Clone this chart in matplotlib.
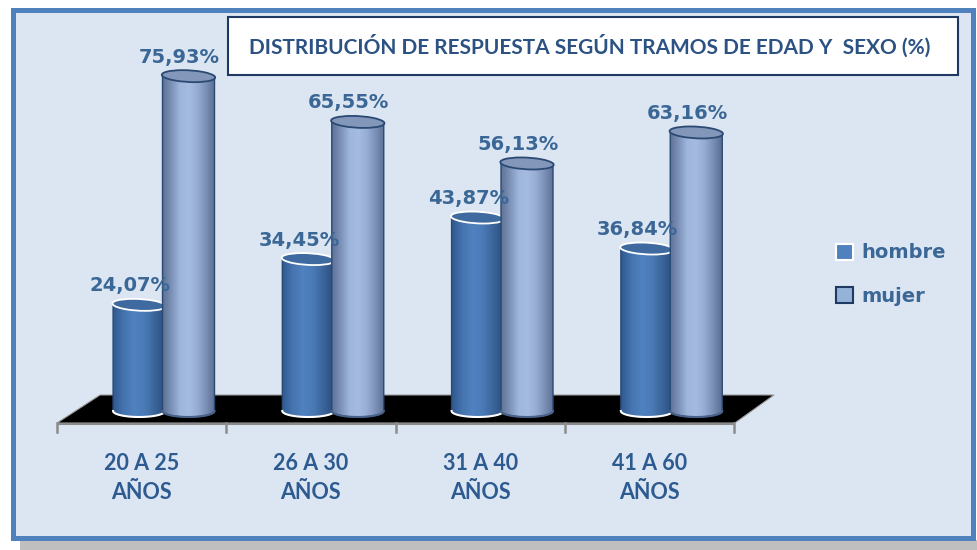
import numpy as np
import matplotlib.pyplot as plt
from matplotlib.patches import Rectangle, Ellipse, Polygon, Patch
from matplotlib.colors import LinearSegmentedColormap

# data
categories = ["20 A 25\nAÑOS", "26 A 30\nAÑOS", "31 A 40\nAÑOS", "41 A 60\nAÑOS"]
series_names = ["hombre", "mujer"]
hombre = [24.07, 34.45, 43.87, 36.84]
mujer = [75.93, 65.55, 56.13, 63.16]
title = "DISTRIBUCIÓN DE RESPUESTA SEGÚN TRAMOS DE EDAD Y  SEXO (%)"

W, H = 977, 550
fig = plt.figure(figsize=(W / 100, H / 100), dpi=100)


def fx(x):
    return x / W


def fy(y):
    return 1 - y / H


# frame, shadow and title box
fig.patches.append(Rectangle((fx(20), fy(550)), 957 / W, 10 / H, transform=fig.transFigure,
                             facecolor="#bfbfbf", edgecolor="none", zorder=-2))
fig.patches.append(Rectangle((fx(12.5), fy(537.5)), 960 / W, 528 / H, transform=fig.transFigure,
                             facecolor="#dce6f2", edgecolor="#4f81bd", lw=3.6, zorder=-1))
fig.patches.append(Rectangle((fx(228), fy(75)), 730 / W, 58 / H, transform=fig.transFigure,
                             facecolor="white", edgecolor="#1f3864", lw=1.5, zorder=1))
fig.text(fx(590), fy(46), title, ha="center", va="center", fontsize=15, fontweight="bold",
         family="Lato", color="#2b5283", zorder=6)

# plot axes: y=0 sits at pixel 411, 4.41 px per percent
base_px, scale = 411, 4.41
ax = fig.add_axes([fx(57), fy(440), 677 / W, 403 / H])
ax.set_zorder(5)
ax.patch.set_visible(False)
ax.axis("off")

n = len(categories)
bw = 52 / 169.25
eh = 12 / scale
offsets = [-0.015, 0.277]

cmap_h = LinearSegmentedColormap.from_list("h", ["#30598f", "#4574ae", "#5082c0", "#4a7ab6", "#3a6499", "#2c4f7f"])
cmap_m = LinearSegmentedColormap.from_list("m", ["#5f7296", "#7d92b8", "#9fb6dd", "#a5bbe0", "#96acd3", "#7a8fb5", "#5b6e92"])
styles = [
    dict(cmap=cmap_h, top_face="#3f6aa0", top_edge="white", base_edge="white", edge="#2a4a73"),
    dict(cmap=cmap_m, top_face="#8397ba", top_edge="#2a4a73", base_edge="#4a6189", edge="#2a4a73"),
]

# floor
front = (base_px - 423) / scale
back = (base_px - 395) / scale
floor = Polygon([(-0.5, front), (n - 0.5 + 0.005, front), (n - 0.5 + 40 / 169.25, back),
                 (-0.5 + 43 / 169.25, back)], closed=True, facecolor="black", edgecolor="#9a9a9a",
                lw=0.8, zorder=1, clip_on=False)
ax.add_patch(floor)
ax.plot([-0.5, n - 0.5], [front - 0.15, front - 0.15], color="#8c8c8c", lw=1.5, zorder=1,
        solid_capstyle="butt", clip_on=False)
tick_bottom = (base_px - 432) / scale
for t in np.arange(n + 1) - 0.5:
    ax.plot([t, t], [front, tick_bottom], color="#8c8c8c", lw=1.8, zorder=1, clip_on=False)


def cylinder(xc, v, st, z):
    x0, x1 = xc - bw / 2, xc + bw / 2
    t = np.linspace(np.pi, 2 * np.pi, 60)
    arc = np.column_stack([xc + bw / 2 * np.cos(t), eh / 2 * np.sin(t)])
    verts = np.vstack([[x0, v], arc, [x1, v]])
    body = Polygon(verts, closed=True, facecolor="none", edgecolor=st["edge"], lw=1, zorder=z + 0.1)
    ax.add_patch(body)
    grad = np.linspace(0, 1, 256).reshape(1, -1)
    im = ax.imshow(grad, extent=[x0, x1, -eh / 2, v], cmap=st["cmap"], aspect="auto",
                   interpolation="bicubic", zorder=z)
    im.set_clip_path(body)
    ax.plot(arc[:, 0], arc[:, 1], color=st["base_edge"], lw=1.5, zorder=z + 0.2)
    ax.add_patch(Ellipse((xc, v), bw, eh, angle=1.5, facecolor=st["top_face"],
                         edgecolor=st["top_edge"], lw=1.3, zorder=z + 0.3))


for s, values in enumerate([hombre, mujer]):
    for i, v in enumerate(values):
        xc = i + offsets[s]
        cylinder(xc, v, styles[s], 2 + 2 * s)
        ax.annotate(f"{v:.2f}".replace(".", ",") + "%", (xc, v), xytext=(-6.5, 13.7),
                    textcoords="offset points", ha="center", va="center", fontsize=14,
                    fontweight="bold", color="#3b6797", zorder=10)

label_y = (base_px - 478) / scale
for i, c in enumerate(categories):
    ax.text(i, label_y, c, ha="center", va="center", fontsize=15.5, fontweight="bold",
            family="Lato", color="#2d5b91", linespacing=1.45, clip_on=False)

ax.set_xlim(-0.5, n - 0.5)
ax.set_ylim(-(440 - base_px) / scale, (base_px - 37) / scale)

# legend
handles = [Patch(facecolor="#4f81bd", edgecolor="white", lw=1.5),
           Patch(facecolor="#95b3d7", edgecolor="#1f3864", lw=1.5)]
fig.legend(handles, series_names, loc="center left", bbox_to_anchor=(fx(836), fy(274.5)),
           frameon=False, labelcolor="#3b6797", handlelength=0.88, handleheight=0.88,
           handletextpad=0.45, labelspacing=1.25, borderpad=0, borderaxespad=0,
           prop={"weight": "bold", "size": 14})

fig.savefig("out.png", dpi=100)
